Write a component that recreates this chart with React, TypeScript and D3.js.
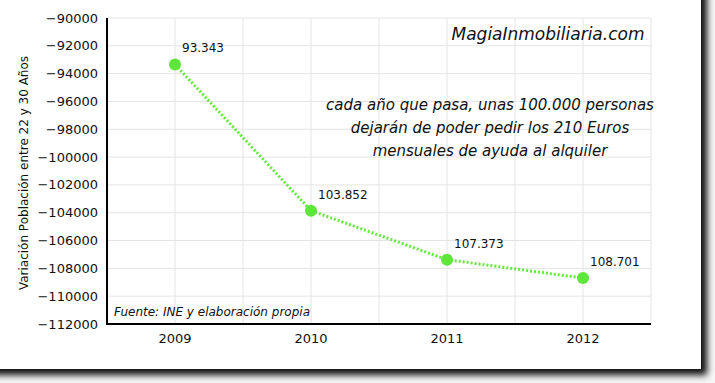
import React from "react";
import * as d3 from "d3";

const years = [2009, 2010, 2011, 2012];
const values = [-93343, -103852, -107373, -108701];
const labels = ["93.343", "103.852", "107.373", "108.701"];
const yTicks = [-90000, -92000, -94000, -96000, -98000, -100000, -102000, -104000, -106000, -108000, -110000, -112000];
const xGrid = [2008.5, 2009, 2009.5, 2010, 2010.5, 2011, 2011.5, 2012, 2012.5];
const noteLines = [
  "cada año que pasa, unas 100.000 personas",
  "dejarán de poder pedir los 210 Euros",
  "mensuales de ayuda al alquiler",
];

const W = 715, H = 383;
const left = 107, right = 651, top = 18, bottom = 324;

export default function App() {
  const x = d3.scaleLinear().domain([2008.5, 2012.5]).range([left, right]);
  const y = d3.scaleLinear().domain([-112000, -90000]).range([bottom, top]);
  const line = d3.line<number>().x((_, i) => x(years[i])).y((d) => y(d));
  const hand = "'Comic Sans MS', 'DejaVu Sans', cursive";
  return (
    <svg width={W} height={H} style={{ position: "absolute", left: 0, top: 0 }}>
      <defs>
        <filter id="sh" x="-5%" y="-5%" width="115%" height="120%">
          <feGaussianBlur in="SourceAlpha" stdDeviation="3.5" />
          <feOffset dx="6" dy="6" result="b" />
          <feComponentTransfer><feFuncA type="linear" slope="0.95" /></feComponentTransfer>
          <feMerge><feMergeNode /><feMergeNode in="SourceGraphic" /></feMerge>
        </filter>
      </defs>
      <rect x={0} y={0} width={W} height={H} fill="#f6f6f6" />
      <rect x={-20} y={-20} width={721} height={389} fill="#fff" filter="url(#sh)" />
      {yTicks.map((t) => (
        <line key={"h" + t} x1={left} x2={right} y1={y(t)} y2={y(t)} stroke="#e4e4e4" strokeWidth={1} />
      ))}
      {xGrid.map((g) => (
        <line key={"v" + g} x1={x(g)} x2={x(g)} y1={top} y2={bottom} stroke="#e4e4e4" strokeWidth={1} />
      ))}
      <line x1={left} x2={left} y1={top} y2={bottom + 1} stroke="#000" strokeWidth={2} />
      <line x1={left} x2={right} y1={bottom} y2={bottom} stroke="#000" strokeWidth={2} />
      {yTicks.map((t) => (
        <text key={"yt" + t} x={98} y={y(t) + 4.5} textAnchor="end" fontFamily="'DejaVu Sans', sans-serif" fontSize={13} fill="#111">
          {String(t).replace("-", "\u2212")}
        </text>
      ))}
      {years.map((yr) => (
        <text key={"xt" + yr} x={x(yr)} y={343} textAnchor="middle" fontFamily="'DejaVu Sans', sans-serif" fontSize={13} fill="#111">
          {yr}
        </text>
      ))}
      <text transform={`translate(28,${(top + bottom) / 2 + 2}) rotate(-90)`} textAnchor="middle" fontFamily="'DejaVu Sans', sans-serif" fontSize={12} fill="#111">
        Variación Población entre 22 y 30 Años
      </text>
      <path d={line(values) || ""} fill="none" stroke="#66e83f" strokeWidth={3} strokeDasharray="2,2" />
      {values.map((v, i) => (
        <circle key={"c" + i} cx={x(years[i])} cy={y(v)} r={6} fill="#5ee63a" />
      ))}
      {values.map((v, i) => (
        <text key={"l" + i} x={x(years[i]) + 7} y={y(v) - 12} fontFamily={hand} fontSize={12} fill="#111">
          {labels[i]}
        </text>
      ))}
      <text x={548} y={40} textAnchor="middle" fontFamily={hand} fontStyle="italic" fontSize={17} fill="#111">
        MagiaInmobiliaria.com
      </text>
      {noteLines.map((s, i) => (
        <text key={"n" + i} x={490} y={110 + i * 23} textAnchor="middle" fontFamily={hand} fontStyle="italic" fontSize={15} fill="#111">
          {s}
        </text>
      ))}
      <text x={114} y={316} fontFamily={hand} fontStyle="italic" fontSize={12} fill="#111">
        Fuente: INE y elaboración propia
      </text>
    </svg>
  );
}
